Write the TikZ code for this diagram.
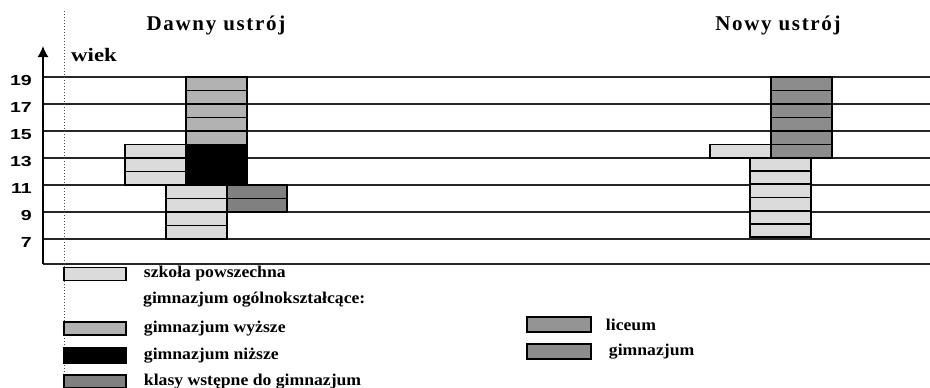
\documentclass[tikz,border=0pt]{standalone}
\usepackage{fontspec}
\usepackage{tikz}
\usetikzlibrary{positioning,arrows.meta}
\setmainfont{Liberation Serif}
\newfontfamily\numfont[FakeStretch=1.35]{Liberation Sans}
\newfontfamily\tytfont[LetterSpace=8]{Liberation Serif}
\newfontfamily\wiekfont[FakeStretch=1.2]{Liberation Serif}
\newfontfamily\legfont[FakeStretch=1.07]{Liberation Serif}

\definecolor{powsz}{gray}{0.86}
\definecolor{wyzsze}{gray}{0.70}
\definecolor{klasy}{gray}{0.50}
\definecolor{liceum}{gray}{0.58}
\definecolor{gimn}{gray}{0.55}

% blok lat: x1, x2, y gora, y dol, liczba lat, kolor
\newcommand{\blok}[6]{%
  \filldraw[blok, fill=#6] (#1,#3) rectangle (#2,#4);
  \foreach \k in {0,...,#5}
    \draw[blok] (#1,{#3+(#4-#3)*\k/#5}) -- (#2,{#3+(#4-#3)*\k/#5});
}

\begin{document}
\begin{tikzpicture}[x=1pt, y=-1pt,
    blok/.style = {draw=black, line width=1.8pt},
    linia/.style = {draw=black!85, line width=1.3pt},
    tytul/.style = {font=\tytfont\fontsize{21}{23}\selectfont\bfseries},
    num/.style = {font=\numfont\fontsize{14.5}{16}\selectfont\bfseries, anchor=east, inner sep=0pt},
    legtext/.style = {font=\legfont\fontsize{16.5}{18}\selectfont\bfseries, anchor=west, inner sep=0pt},
    legbox/.style = {draw=black, line width=1.5pt, minimum width=62pt, minimum height=13pt, inner sep=0pt}]
    \useasboundingbox (0,0) rectangle (930,388);

    % os i linie wieku
    \coordinate (osdol)  at (43,264);
    \coordinate (osgora) at (43,46);
    \foreach \a in {7,9,...,19} {
        \draw[linia] (43,{77+(19-\a)*13.5}) -- (930,{77+(19-\a)*13.5});
        \node[num] (n\a) at (32,{77+(19-\a)*13.5+4}) {\a};
    }
    \draw[linia] (osdol) -- (930,264);
    \draw[line width=1.5pt, -{Latex[length=11pt,width=11pt]}] (osdol) -- (osgora);
    \draw[black!70, line width=1pt, dotted] (64,11) -- (64,388);

    \node[legtext, font=\wiekfont\fontsize{19}{21}\selectfont\bfseries] (wiek) at (71,55) {wiek};
    \node[tytul] (dawny) at (216,25) {Dawny ustrój};
    \node[tytul] (nowy)  at (778,25) {Nowy ustrój};

    % dawny ustroj
    \blok{186}{247}{77}{144.5}{5}{wyzsze}
    \blok{186}{247}{144.5}{185}{3}{black}
    \blok{125}{186}{144.5}{185}{3}{powsz}
    \blok{166}{227}{185}{239}{4}{powsz}
    \blok{227}{287}{185}{212}{2}{klasy}

    % nowy ustroj
    \blok{771}{832}{77}{158}{6}{gimn}
    \blok{710}{771}{144.5}{158}{1}{powsz}
    \blok{750}{811}{158}{237}{6}{powsz}

    % legenda
    \node[legbox, fill=powsz]  (lpowsz)  at (95,274)   {};
    \node[legtext, right=17pt of lpowsz] (tpowsz) {szkoła powszechna};
    \node[legtext] (togol) at (143,300) {gimnazjum ogólnokształcące:};
    \node[legbox, fill=wyzsze] (lwyzsze) at (95,328.5) {};
    \node[legtext, right=17pt of lwyzsze] (twyzsze) {gimnazjum wyższe};
    \node[legbox, fill=black, minimum height=15pt] (lnizsze) at (95,355.5) {};
    \node[legtext, right=17pt of lnizsze] (tnizsze) {gimnazjum niższe};
    \node[legbox, fill=klasy]  (lklasy)  at (95,381.5) {};
    \node[legtext, right=17pt of lklasy] (tklasy) {klasy wstępne do gimnazjum};
    \node[legbox, fill=liceum, minimum width=64pt, minimum height=15pt] (llic)  at (559,324.5) {};
    \node[legtext, right=14pt of llic] (tlic) {liceum};
    \node[legbox, fill=gimn, minimum width=64pt, minimum height=15pt] (lgimn) at (559,351.5) {};
    \node[legtext, right=17pt of lgimn] (tgimn) {gimnazjum};
\end{tikzpicture}
\end{document}
